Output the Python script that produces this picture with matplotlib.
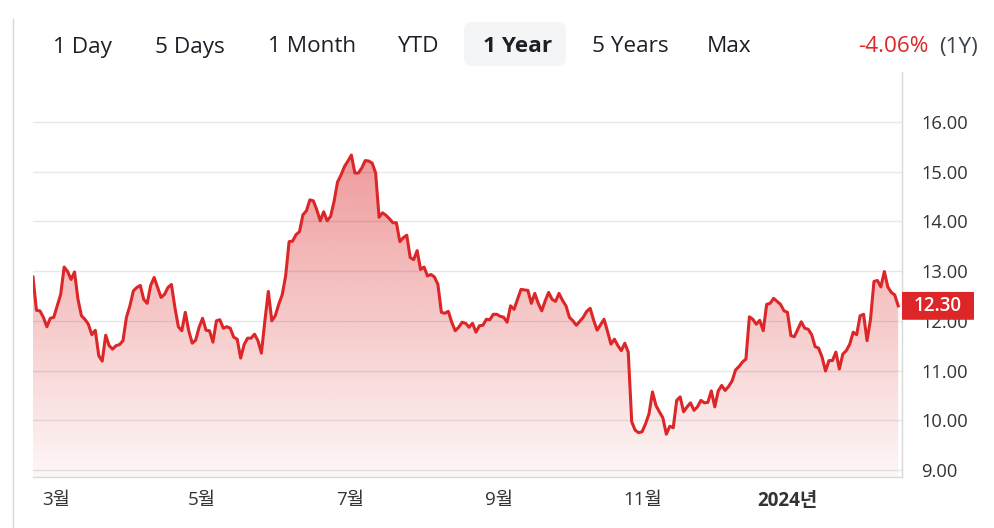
import numpy as np
import matplotlib
matplotlib.use("Agg")
import matplotlib.pyplot as plt
from matplotlib.patches import FancyBboxPatch, Polygon
from matplotlib.lines import Line2D
from matplotlib.transforms import IdentityTransform

plt.rcParams['font.family'] = ['Open Sans', 'Noto Sans CJK KR', 'DejaVu Sans']

# daily closes, 1 year
prices = [
    12.88, 12.21, 12.20, 12.07, 11.88, 12.05, 12.07, 12.30, 12.53, 13.08,
    12.99, 12.83, 12.98, 12.43, 12.10, 12.03, 11.93, 11.72, 11.81, 11.30,
    11.19, 11.71, 11.50, 11.43, 11.50, 11.52, 11.60, 12.07, 12.30, 12.60,
    12.67, 12.71, 12.43, 12.35, 12.71, 12.87, 12.67, 12.47, 12.53, 12.67,
    12.73, 12.27, 11.88, 11.80, 12.17, 11.80, 11.55, 11.61, 11.87, 12.05,
    11.81, 11.80, 11.57, 12.00, 12.02, 11.85, 11.88, 11.85, 11.67, 11.63,
    11.25, 11.52, 11.65,
    11.65, 11.73, 11.60, 11.35, 12.00, 12.59, 12.00, 12.10, 12.33, 12.52,
    12.90, 13.59, 13.60, 13.73, 13.79, 14.13, 14.21, 14.43, 14.41, 14.23,
    14.01, 14.19, 14.01, 14.10, 14.40, 14.79, 14.93, 15.10, 15.21, 15.33,
    14.97, 14.97, 15.07, 15.22, 15.21, 15.17, 14.97, 14.08, 14.17, 14.12,
    14.05, 13.97, 13.97, 13.59, 13.67, 13.72, 13.27, 13.23, 13.41, 13.03,
    13.08, 12.90, 12.93, 12.88, 12.73, 12.17, 12.15, 12.19, 11.97, 11.80,
    11.87, 11.97, 11.95, 11.87, 11.95, 11.77, 11.90, 11.91, 12.03, 12.02,
    12.13, 12.13, 12.09, 12.07, 11.97, 12.30, 12.23, 12.43, 12.63, 12.62,
    12.61, 12.35, 12.55, 12.35, 12.20, 12.40, 12.57, 12.43, 12.39, 12.55,
    12.41, 12.30, 12.07, 12.00, 11.91, 11.99, 12.07, 12.19, 12.25, 12.01,
    11.81, 11.92, 12.03, 11.79, 11.53, 11.63, 11.50, 11.40, 11.55, 11.37,
    9.97, 9.80, 9.75, 9.77, 9.93, 10.13, 10.57, 10.30, 10.17, 10.05,
    9.72, 9.88, 9.85, 10.40, 10.47,
    10.17, 10.27, 10.35, 10.20, 10.27, 10.40, 10.35, 10.36, 10.59, 10.27,
    10.59, 10.70, 10.60, 10.68, 10.79, 11.01, 11.08, 11.17, 11.23, 12.08,
    12.03, 11.93, 12.01, 11.80, 12.33, 12.35, 12.45, 12.39, 12.33, 12.20,
    12.17, 11.70, 11.68, 11.83, 11.98, 11.85, 11.83, 11.72, 11.48, 11.45,
    11.27, 10.99, 11.20, 11.20, 11.37, 11.03, 11.33, 11.40, 11.53, 11.77,
    11.72, 12.10, 12.13, 11.60, 12.03, 12.79, 12.81, 12.68, 12.99, 12.68,
    12.57, 12.52, 12.30,
]

month_pos = [6.7, 48.8, 91.7, 134.7, 176.3, 217.9]
month_labels = ["3월", "5월", "7월", "9월", "11월", "2024년"]
y_ticks = [9, 10, 11, 12, 13, 14, 15, 16]

ranges = ["1 Day", "5 Days", "1 Month", "YTD", "1 Year", "5 Years", "Max"]
range_x = [53, 155, 268, 398, 483, 592, 707]
change_text = "-4.06%"
change_period = "(1Y)"

RED = "#dc2628"
W, H = 995, 528

fig = plt.figure(figsize=(W / 100, H / 100), dpi=100)
ax = fig.add_axes([33 / W, 51 / H, 869 / W, 405 / H])

x = np.arange(len(prices))
ymin, ymax = 8.86, 17.0
xmax = 251.1
ax.set_xlim(0, xmax)
ax.set_ylim(ymin, ymax)

# gradient fill under the line
grad = np.zeros((256, 1, 4))
grad[..., 0] = 220 / 255
grad[..., 1] = 38 / 255
grad[..., 2] = 40 / 255
grad[:, 0, 3] = np.linspace(0.57, 0.04, 256)
im = ax.imshow(grad, extent=[0, xmax, ymin, ymax], aspect='auto',
               origin='upper', zorder=1, interpolation='bilinear')
verts = [(x[0], ymin)] + list(zip(x, prices)) + [(x[-1], ymin)]
clip = Polygon(verts, closed=True, fc='none', ec='none')
ax.add_patch(clip)
im.set_clip_path(clip)

ax.plot(x, prices, color=RED, lw=2.2, zorder=3, solid_joinstyle='round')

# grid / spines
ax.set_yticks(y_ticks)
ax.yaxis.grid(True, color='black', alpha=0.09, lw=1)
ax.set_axisbelow(False)
for g in ax.get_ygridlines():
    g.set_zorder(2)
for s in ['top', 'left']:
    ax.spines[s].set_visible(False)
for s in ['right', 'bottom']:
    ax.spines[s].set_color('#d9d9d9')
    ax.spines[s].set_linewidth(1)

ax.yaxis.tick_right()
ax.set_yticklabels([f"{v:.2f}" for v in y_ticks])
ax.tick_params(axis='y', length=0, pad=14, labelsize=13.2, labelcolor='#333333')
ax.set_xticks(month_pos)
ax.set_xticklabels(month_labels)
ax.tick_params(axis='x', length=0, pad=10, labelsize=13.5, labelcolor='#333333')
ax.get_xticklabels()[-1].set_fontweight('bold')

# last price tag
bt = ax.get_yaxis_transform()
tag = FancyBboxPatch((1.0, prices[-1] - 0.28), 72 / 869, 0.56,
                     boxstyle="round,pad=0,rounding_size=0.003",
                     transform=bt, fc=RED, ec='none', clip_on=False, zorder=5)
ax.add_patch(tag)
ax.text(1.0 + 36 / 869, prices[-1], f"{prices[-1]:.2f}", transform=bt,
        ha='center', va='center', color='white', fontsize=13.5,
        fontweight='semibold', zorder=6, clip_on=False)

# top range selector
idt = IdentityTransform()
fig.add_artist(FancyBboxPatch((464, H - 66), 102, 44,
                              boxstyle="round,pad=0,rounding_size=8",
                              transform=idt, fc='#f4f5f7', ec='none'))
ty = 1 - 47 / H
for lab, px in zip(ranges, range_x):
    fig.text(px / W, ty, lab, ha='left', va='center', fontsize=16.2,
             color='#1d1f27', fontweight='bold' if lab == "1 Year" else 'normal')
fig.text(858 / W, ty, change_text, ha='left', va='center',
         fontsize=16.2, color=RED)
fig.text(978 / W, ty, change_period, ha='right', va='center',
         fontsize=16.2, color='#3d4451')

fig.add_artist(Line2D([13, 13], [0, H - 19], transform=idt,
                      color='#d9d9d9', lw=1))

fig.savefig("out.png", dpi=100)
